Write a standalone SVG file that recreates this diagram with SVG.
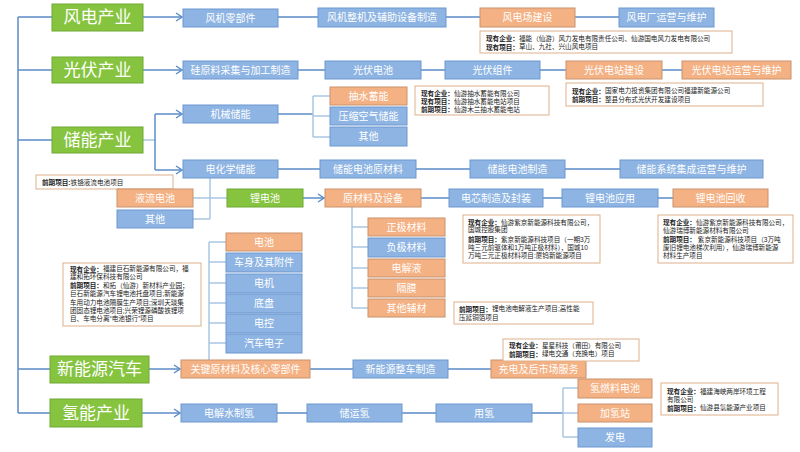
<svg xmlns="http://www.w3.org/2000/svg" width="800" height="452" viewBox="0 0 800 452">
<style>
text{font-family:"Liberation Sans","Noto Sans CJK SC",sans-serif}
.b{fill:#8DB4E2;stroke:#6C97CF;stroke-width:1}
.o{fill:#F4B183;stroke:#C9926C;stroke-width:1}
.g{fill:#86C440;stroke:#6EA832;stroke-width:1}
.t{fill:#fff;font-size:10px;text-anchor:middle;dominant-baseline:central}
.gt{fill:#fff;font-size:17px;text-anchor:middle;dominant-baseline:central}
.n{fill:#fff;stroke:#DDB08A;stroke-width:1}
.nt{fill:#222;font-size:6.6px;dominant-baseline:central}
.nt .k{font-weight:bold}
.c{stroke:#5B8CC8;stroke-width:1.5;fill:none}
.c2{stroke:#A9C6E2;stroke-width:1.5;fill:none}
</style>
<defs>
<marker id="ar" markerWidth="8" markerHeight="10" refX="7" refY="5" orient="auto" markerUnits="userSpaceOnUse">
<path d="M1,1 L7,5 L1,9" fill="none" stroke="#5B8CC8" stroke-width="1.4"/>
</marker>
</defs>
<rect width="800" height="452" fill="#fff"/>

<g id="connectors">
<path class="c" d="M18,17 V413 M18,17 H52 M18,70 H52 M18,140 H52 M18,369 H50 M18,413 H50"/>
<path class="c" d="M143,17 H182" marker-end="url(#ar)"/>
<path class="c" d="M278,17 H318 M446,17 H480 M575,17 H619"/>
<path class="c" d="M143,70 H182" marker-end="url(#ar)"/>
<path class="c" d="M298,70 H325 M421,70 H445 M540,70 H566 M662,70 H682"/>
<path class="c2" d="M143,140 H155"/>
<path class="c" d="M155,114 V170"/>
<path class="c" d="M155,114 H182" marker-end="url(#ar)"/>
<path class="c" d="M155,170 H182" marker-end="url(#ar)"/>
<path class="c" d="M278,114 H313"/>
<path class="c2" d="M313,96 V137 M313,96 H330 M313,116 H330 M313,137 H330"/>
<path class="c" d="M278,169 H320 M416,169 H470 M565,169 H620"/>
<path class="c2" d="M210,178 V219 M193,198 H227 M193,219 H210"/>
<path class="c" d="M303,198 H324" marker-end="url(#ar)"/>
<path class="c" d="M421,198 H449 M543,198 H562 M658,198 H673"/>
<path class="c2" d="M352,207 V308 M352,227 H368 M352,247 H368 M352,268 H368 M352,288 H368 M352,308 H368"/>
<path class="c2" d="M209,242 V360 M209,242 H226 M209,262 H226 M209,283 H226 M209,303 H226 M209,323 H226 M209,343 H226"/>
<path class="c" d="M149,369 H180" marker-end="url(#ar)"/>
<path class="c" d="M310,369 H353 M448,369 H491"/>
<path class="c" d="M142,413 H180" marker-end="url(#ar)"/>
<path class="c" d="M277,413 H307 M402,413 H436 M532,413 H563"/>
<path class="c2" d="M563,388 V437 M563,388 H578 M563,413 H578 M563,437 H578"/>
</g>

<g id="cat-wind"><rect class="g" x="52" y="4" width="91" height="27"/><text class="gt" x="97.5" y="17.5">风电产业</text></g>
<g id="cat-pv"><rect class="g" x="52" y="57" width="91" height="26"/><text class="gt" x="97.5" y="70">光伏产业</text></g>
<g id="cat-storage"><rect class="g" x="52" y="127" width="91" height="26"/><text class="gt" x="97.5" y="140">储能产业</text></g>
<g id="cat-nev"><rect class="g" x="50" y="356" width="99" height="27"/><text class="gt" x="99.5" y="369.5">新能源汽车</text></g>
<g id="cat-h2"><rect class="g" x="50" y="399" width="92" height="28"/><text class="gt" x="96" y="413">氢能产业</text></g>

<g id="w1"><rect class="b" x="183" y="9" width="95" height="18"/><text class="t" x="230.5" y="18">风机零部件</text></g>
<g id="w2"><rect class="b" x="318" y="8" width="128" height="19"/><text class="t" x="382" y="17.5">风机整机及辅助设备制造</text></g>
<g id="w3"><rect class="o" x="480" y="8" width="95" height="19"/><text class="t" x="527.5" y="17.5">风电场建设</text></g>
<g id="w4"><rect class="b" x="619" y="8" width="95" height="19"/><text class="t" x="666.5" y="17.5">风电厂运营与维护</text></g>
<g id="w-note"><rect class="n" x="480" y="31" width="252" height="22"/>
<text class="nt" x="486" y="38"><tspan class="k">现有企业：</tspan>福能（仙游）风力发电有限责任公司、仙游国电风力发电有限公司</text>
<text class="nt" x="486" y="46.5"><tspan class="k">现有项目：</tspan>草山、九社、兴山风电项目</text></g>

<g id="p1"><rect class="b" x="183" y="61" width="115" height="18"/><text class="t" x="240.5" y="70">硅原料采集与加工制造</text></g>
<g id="p2"><rect class="b" x="325" y="61" width="96" height="18"/><text class="t" x="373" y="70">光伏电池</text></g>
<g id="p3"><rect class="b" x="445" y="61" width="95" height="18"/><text class="t" x="492.5" y="70">光伏组件</text></g>
<g id="p4"><rect class="o" x="566" y="61" width="96" height="18"/><text class="t" x="614" y="70">光伏电站建设</text></g>
<g id="p5"><rect class="o" x="682" y="61" width="109" height="18"/><text class="t" x="736.5" y="70">光伏电站运营与维护</text></g>
<g id="p-note"><rect class="n" x="566" y="83" width="197" height="23"/>
<text class="nt" x="572" y="90.5"><tspan class="k">现有企业：</tspan>国家电力投资集团有限公司福建新能源公司</text>
<text class="nt" x="572" y="99"><tspan class="k">前期项目：</tspan>整县分布式光伏开发建设项目</text></g>

<g id="s-mech"><rect class="b" x="183" y="105" width="95" height="18"/><text class="t" x="230.5" y="114">机械储能</text></g>
<g id="s-pump"><rect class="o" x="330" y="87" width="77" height="18"/><text class="t" x="368.5" y="96">抽水蓄能</text></g>
<g id="s-air"><rect class="b" x="330" y="107" width="77" height="18"/><text class="t" x="368.5" y="116">压缩空气储能</text></g>
<g id="s-other1"><rect class="b" x="330" y="127" width="77" height="19"/><text class="t" x="368.5" y="136.5">其他</text></g>
<g id="s-pump-note"><rect class="n" x="415" y="86" width="134" height="29"/>
<text class="nt" x="421" y="93"><tspan class="k">现有企业：</tspan>仙游抽水蓄能有限公司</text>
<text class="nt" x="421" y="101"><tspan class="k">现有项目：</tspan>仙游抽水蓄能电站项目</text>
<text class="nt" x="421" y="109"><tspan class="k">前期项目：</tspan>仙游木兰抽水蓄能电站</text></g>

<g id="s-chem"><rect class="b" x="183" y="160" width="95" height="18"/><text class="t" x="230.5" y="169">电化学储能</text></g>
<g id="s-c1"><rect class="b" x="320" y="160" width="96" height="18"/><text class="t" x="368" y="169">储能电池原材料</text></g>
<g id="s-c2"><rect class="b" x="470" y="160" width="95" height="18"/><text class="t" x="517.5" y="169">储能电池制造</text></g>
<g id="s-c3"><rect class="b" x="620" y="160" width="143" height="18"/><text class="t" x="691.5" y="169">储能系统集成运营与维护</text></g>
<g id="s-flow-note"><rect class="n" x="36" y="175" width="137" height="14"/>
<text class="nt" x="42" y="182"><tspan class="k">前期项目:</tspan>铁铬液流电池项目</text></g>
<g id="s-flow"><rect class="o" x="117" y="189" width="76" height="18"/><text class="t" x="155" y="198">液流电池</text></g>
<g id="s-other2"><rect class="b" x="117" y="210" width="76" height="18"/><text class="t" x="155" y="219">其他</text></g>
<g id="li"><rect class="g" x="227" y="189" width="76" height="18"/><text class="t" x="265" y="198">锂电池</text></g>
<g id="li1"><rect class="o" x="325" y="189" width="96" height="18"/><text class="t" x="373" y="198">原材料及设备</text></g>
<g id="li2"><rect class="b" x="449" y="189" width="94" height="18"/><text class="t" x="496" y="198">电芯制造及封装</text></g>
<g id="li3"><rect class="b" x="562" y="189" width="96" height="18"/><text class="t" x="610" y="198">锂电池应用</text></g>
<g id="li4"><rect class="o" x="673" y="189" width="95" height="18"/><text class="t" x="720.5" y="198">锂电池回收</text></g>
<g id="m1"><rect class="o" x="368" y="218" width="77" height="18"/><text class="t" x="406.5" y="227">正极材料</text></g>
<g id="m2"><rect class="b" x="368" y="238" width="77" height="19"/><text class="t" x="406.5" y="247.5">负极材料</text></g>
<g id="m3"><rect class="o" x="368" y="259" width="77" height="18"/><text class="t" x="406.5" y="268">电解液</text></g>
<g id="m4"><rect class="o" x="368" y="279" width="77" height="18"/><text class="t" x="406.5" y="288">隔膜</text></g>
<g id="m5"><rect class="o" x="368" y="299" width="77" height="18"/><text class="t" x="406.5" y="308">其他辅材</text></g>
<g id="li2-note"><rect class="n" x="463" y="215" width="137" height="48"/>
<text class="nt" x="468" y="222"><tspan class="k">现有企业：</tspan>仙游紫京新能源科技有限公司，</text>
<text class="nt" x="468" y="229.5">国城控股集团</text>
<text class="nt" x="468" y="239"><tspan class="k">前期项目：</tspan>紫京新能源科技项目（一期3万</text>
<text class="nt" x="468" y="247">吨三元前驱体和1万吨正极材料），国城10</text>
<text class="nt" x="468" y="255">万吨三元正极材料项目:厦钨新能源项目</text></g>
<g id="li4-note"><rect class="n" x="658" y="215" width="135" height="48"/>
<text class="nt" x="663" y="222"><tspan class="k">现有企业：</tspan>仙游紫京新能源科技有限公司，</text>
<text class="nt" x="663" y="230">仙游瑞博新能源材料有限公司</text>
<text class="nt" x="663" y="239"><tspan class="k">前期项目：</tspan> 紫京新能源科技项目（3万吨</text>
<text class="nt" x="663" y="247">废旧锂电池梯次利用），仙游瑞博新能源</text>
<text class="nt" x="663" y="255">材料生产项目</text></g>
<g id="m-note"><rect class="n" x="454" y="302" width="139" height="22"/>
<text class="nt" x="459" y="308.5"><tspan class="k">前期项目：</tspan>锂电池电解液生产项目;高性能</text>
<text class="nt" x="459" y="317">压延铜箔项目</text></g>

<g id="v1"><rect class="o" x="226" y="233" width="76" height="18"/><text class="t" x="264" y="242">电池</text></g>
<g id="v2"><rect class="b" x="226" y="253" width="76" height="19"/><text class="t" x="264" y="262.5">车身及其附件</text></g>
<g id="v3"><rect class="b" x="226" y="274" width="76" height="19"/><text class="t" x="264" y="283.5">电机</text></g>
<g id="v4"><rect class="b" x="226" y="294" width="76" height="19"/><text class="t" x="264" y="303.5">底盘</text></g>
<g id="v5"><rect class="b" x="226" y="314" width="76" height="19"/><text class="t" x="264" y="323.5">电控</text></g>
<g id="v6"><rect class="b" x="226" y="334" width="76" height="19"/><text class="t" x="264" y="343.5">汽车电子</text></g>
<g id="v-note"><rect class="n" x="63" y="263" width="138" height="63"/>
<text class="nt" x="70" y="268.5"><tspan class="k">现有企业：</tspan>福建巨石新能源有限公司，福</text>
<text class="nt" x="70" y="276.5">建和拓环保科技有限公司</text>
<text class="nt" x="70" y="285"><tspan class="k">前期项目：</tspan>和拓（仙游）新材料产业园；</text>
<text class="nt" x="70" y="293.5">巨石新能源汽车锂电池托盘项目;新能源</text>
<text class="nt" x="70" y="302">车用动力电池隔膜生产项目;深圳天琰集</text>
<text class="nt" x="70" y="310">团固态锂电池项目;兴荣锂源磷酸铁锂项</text>
<text class="nt" x="70" y="318">目、车电分离“电池银行”项目</text></g>

<g id="n1"><rect class="o" x="181" y="360" width="129" height="18"/><text class="t" x="245.5" y="369">关键原材料及核心零部件</text></g>
<g id="n2"><rect class="b" x="353" y="360" width="95" height="18"/><text class="t" x="400.5" y="369">新能源整车制造</text></g>
<g id="n3"><rect class="o" x="491" y="360" width="95" height="18"/><text class="t" x="538.5" y="369">充电及后市场服务</text></g>
<g id="n-note"><rect class="n" x="503" y="339" width="136" height="22"/>
<text class="nt" x="509" y="345"><tspan class="k">现有企业：</tspan>星星科技（莆田）有限公司</text>
<text class="nt" x="509" y="353.5"><tspan class="k">前期项目：</tspan>绿电交通（充换电）项目</text></g>

<g id="h1"><rect class="b" x="181" y="404" width="96" height="18"/><text class="t" x="229" y="413">电解水制氢</text></g>
<g id="h2"><rect class="b" x="307" y="404" width="95" height="18"/><text class="t" x="354.5" y="413">储运氢</text></g>
<g id="h3"><rect class="b" x="436" y="404" width="96" height="18"/><text class="t" x="484" y="413">用氢</text></g>
<g id="h4"><rect class="o" x="578" y="379" width="74" height="19"/><text class="t" x="615" y="388.5">氢燃料电池</text></g>
<g id="h5"><rect class="o" x="578" y="404" width="74" height="18"/><text class="t" x="615" y="413">加氢站</text></g>
<g id="h6"><rect class="b" x="578" y="428" width="74" height="19"/><text class="t" x="615" y="437.5">发电</text></g>
<g id="h-note"><rect class="n" x="661" y="383" width="117" height="32"/>
<text class="nt" x="667" y="391"><tspan class="k">现有企业：</tspan>福建海峡两岸环境工程</text>
<text class="nt" x="667" y="399">有限公司</text>
<text class="nt" x="667" y="407.5"><tspan class="k">前期项目：</tspan>仙游县氢能源产业项目</text></g>
</svg>
